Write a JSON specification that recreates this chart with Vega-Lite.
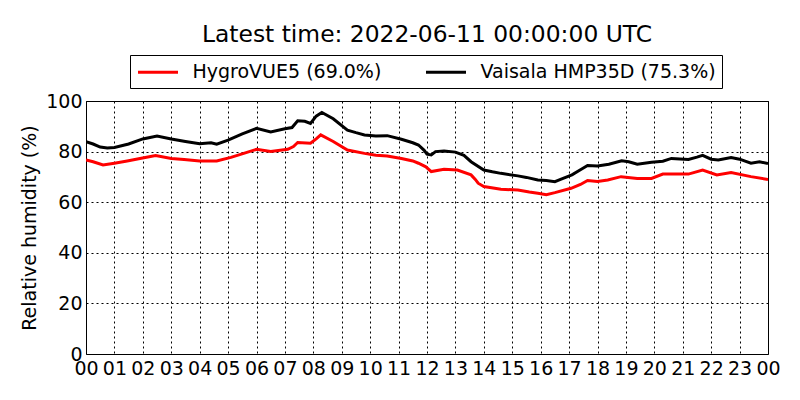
{
  "$schema": "https://vega.github.io/schema/vega-lite/v6.json",
  "autosize": "none",
  "width": 682,
  "height": 253,
  "padding": {"left": 86, "top": 101, "right": 32, "bottom": 46},
  "config": {
    "font": "DejaVu Sans",
    "view": {"stroke": "black", "strokeWidth": 1}
  },
  "title": {
    "text": "Latest time: 2022-06-11 00:00:00 UTC",
    "fontSize": 23.4,
    "fontWeight": "normal",
    "font": "DejaVu Sans",
    "color": "black",
    "offset": 7
  },
  "datasets": {
    "rh": [
      {"hour": 0.0, "rh": 83.9, "sensor": "Vaisala HMP35D (75.3%)"},
      {"hour": 0.25, "rh": 83.0, "sensor": "Vaisala HMP35D (75.3%)"},
      {"hour": 0.5, "rh": 81.8, "sensor": "Vaisala HMP35D (75.3%)"},
      {"hour": 0.75, "rh": 81.4, "sensor": "Vaisala HMP35D (75.3%)"},
      {"hour": 1.0, "rh": 81.6, "sensor": "Vaisala HMP35D (75.3%)"},
      {"hour": 1.5, "rh": 83.0, "sensor": "Vaisala HMP35D (75.3%)"},
      {"hour": 2.0, "rh": 85.0, "sensor": "Vaisala HMP35D (75.3%)"},
      {"hour": 2.5, "rh": 86.2, "sensor": "Vaisala HMP35D (75.3%)"},
      {"hour": 3.0, "rh": 85.0, "sensor": "Vaisala HMP35D (75.3%)"},
      {"hour": 3.5, "rh": 84.0, "sensor": "Vaisala HMP35D (75.3%)"},
      {"hour": 4.0, "rh": 83.1, "sensor": "Vaisala HMP35D (75.3%)"},
      {"hour": 4.4, "rh": 83.5, "sensor": "Vaisala HMP35D (75.3%)"},
      {"hour": 4.6, "rh": 82.9, "sensor": "Vaisala HMP35D (75.3%)"},
      {"hour": 5.0, "rh": 84.5, "sensor": "Vaisala HMP35D (75.3%)"},
      {"hour": 5.5, "rh": 87.0, "sensor": "Vaisala HMP35D (75.3%)"},
      {"hour": 6.0, "rh": 89.2, "sensor": "Vaisala HMP35D (75.3%)"},
      {"hour": 6.5, "rh": 87.8, "sensor": "Vaisala HMP35D (75.3%)"},
      {"hour": 7.0, "rh": 89.0, "sensor": "Vaisala HMP35D (75.3%)"},
      {"hour": 7.25, "rh": 89.5, "sensor": "Vaisala HMP35D (75.3%)"},
      {"hour": 7.45, "rh": 92.2, "sensor": "Vaisala HMP35D (75.3%)"},
      {"hour": 7.7, "rh": 92.0, "sensor": "Vaisala HMP35D (75.3%)"},
      {"hour": 7.9, "rh": 91.1, "sensor": "Vaisala HMP35D (75.3%)"},
      {"hour": 8.1, "rh": 94.0, "sensor": "Vaisala HMP35D (75.3%)"},
      {"hour": 8.3, "rh": 95.5, "sensor": "Vaisala HMP35D (75.3%)"},
      {"hour": 8.7, "rh": 93.0, "sensor": "Vaisala HMP35D (75.3%)"},
      {"hour": 9.2, "rh": 88.5, "sensor": "Vaisala HMP35D (75.3%)"},
      {"hour": 9.5, "rh": 87.5, "sensor": "Vaisala HMP35D (75.3%)"},
      {"hour": 9.8, "rh": 86.6, "sensor": "Vaisala HMP35D (75.3%)"},
      {"hour": 10.2, "rh": 86.2, "sensor": "Vaisala HMP35D (75.3%)"},
      {"hour": 10.6, "rh": 86.3, "sensor": "Vaisala HMP35D (75.3%)"},
      {"hour": 11.1, "rh": 84.9, "sensor": "Vaisala HMP35D (75.3%)"},
      {"hour": 11.5, "rh": 83.5, "sensor": "Vaisala HMP35D (75.3%)"},
      {"hour": 11.7, "rh": 82.6, "sensor": "Vaisala HMP35D (75.3%)"},
      {"hour": 11.9, "rh": 80.5, "sensor": "Vaisala HMP35D (75.3%)"},
      {"hour": 12.0, "rh": 79.0, "sensor": "Vaisala HMP35D (75.3%)"},
      {"hour": 12.15, "rh": 78.7, "sensor": "Vaisala HMP35D (75.3%)"},
      {"hour": 12.3, "rh": 80.0, "sensor": "Vaisala HMP35D (75.3%)"},
      {"hour": 12.6, "rh": 80.2, "sensor": "Vaisala HMP35D (75.3%)"},
      {"hour": 13.0, "rh": 79.8, "sensor": "Vaisala HMP35D (75.3%)"},
      {"hour": 13.3, "rh": 78.5, "sensor": "Vaisala HMP35D (75.3%)"},
      {"hour": 13.55, "rh": 76.0, "sensor": "Vaisala HMP35D (75.3%)"},
      {"hour": 14.0, "rh": 72.7, "sensor": "Vaisala HMP35D (75.3%)"},
      {"hour": 14.3, "rh": 72.0, "sensor": "Vaisala HMP35D (75.3%)"},
      {"hour": 14.6, "rh": 71.4, "sensor": "Vaisala HMP35D (75.3%)"},
      {"hour": 15.2, "rh": 70.4, "sensor": "Vaisala HMP35D (75.3%)"},
      {"hour": 15.5, "rh": 69.8, "sensor": "Vaisala HMP35D (75.3%)"},
      {"hour": 15.9, "rh": 68.8, "sensor": "Vaisala HMP35D (75.3%)"},
      {"hour": 16.2, "rh": 68.6, "sensor": "Vaisala HMP35D (75.3%)"},
      {"hour": 16.5, "rh": 68.1, "sensor": "Vaisala HMP35D (75.3%)"},
      {"hour": 16.7, "rh": 69.0, "sensor": "Vaisala HMP35D (75.3%)"},
      {"hour": 17.1, "rh": 70.8, "sensor": "Vaisala HMP35D (75.3%)"},
      {"hour": 17.4, "rh": 72.8, "sensor": "Vaisala HMP35D (75.3%)"},
      {"hour": 17.65, "rh": 74.5, "sensor": "Vaisala HMP35D (75.3%)"},
      {"hour": 18.0, "rh": 74.3, "sensor": "Vaisala HMP35D (75.3%)"},
      {"hour": 18.4, "rh": 75.0, "sensor": "Vaisala HMP35D (75.3%)"},
      {"hour": 18.85, "rh": 76.4, "sensor": "Vaisala HMP35D (75.3%)"},
      {"hour": 19.1, "rh": 76.0, "sensor": "Vaisala HMP35D (75.3%)"},
      {"hour": 19.4, "rh": 75.0, "sensor": "Vaisala HMP35D (75.3%)"},
      {"hour": 19.9, "rh": 75.8, "sensor": "Vaisala HMP35D (75.3%)"},
      {"hour": 20.3, "rh": 76.2, "sensor": "Vaisala HMP35D (75.3%)"},
      {"hour": 20.6, "rh": 77.3, "sensor": "Vaisala HMP35D (75.3%)"},
      {"hour": 21.2, "rh": 76.9, "sensor": "Vaisala HMP35D (75.3%)"},
      {"hour": 21.5, "rh": 77.8, "sensor": "Vaisala HMP35D (75.3%)"},
      {"hour": 21.7, "rh": 78.5, "sensor": "Vaisala HMP35D (75.3%)"},
      {"hour": 22.0, "rh": 77.0, "sensor": "Vaisala HMP35D (75.3%)"},
      {"hour": 22.25, "rh": 76.7, "sensor": "Vaisala HMP35D (75.3%)"},
      {"hour": 22.7, "rh": 77.7, "sensor": "Vaisala HMP35D (75.3%)"},
      {"hour": 23.0, "rh": 77.0, "sensor": "Vaisala HMP35D (75.3%)"},
      {"hour": 23.4, "rh": 75.4, "sensor": "Vaisala HMP35D (75.3%)"},
      {"hour": 23.7, "rh": 76.0, "sensor": "Vaisala HMP35D (75.3%)"},
      {"hour": 24.0, "rh": 75.3, "sensor": "Vaisala HMP35D (75.3%)"},
      {"hour": 0.0, "rh": 76.7, "sensor": "HygroVUE5 (69.0%)"},
      {"hour": 0.25, "rh": 76.0, "sensor": "HygroVUE5 (69.0%)"},
      {"hour": 0.6, "rh": 74.7, "sensor": "HygroVUE5 (69.0%)"},
      {"hour": 1.0, "rh": 75.4, "sensor": "HygroVUE5 (69.0%)"},
      {"hour": 1.45, "rh": 76.3, "sensor": "HygroVUE5 (69.0%)"},
      {"hour": 1.9, "rh": 77.3, "sensor": "HygroVUE5 (69.0%)"},
      {"hour": 2.45, "rh": 78.4, "sensor": "HygroVUE5 (69.0%)"},
      {"hour": 3.0, "rh": 77.3, "sensor": "HygroVUE5 (69.0%)"},
      {"hour": 3.45, "rh": 76.9, "sensor": "HygroVUE5 (69.0%)"},
      {"hour": 4.0, "rh": 76.3, "sensor": "HygroVUE5 (69.0%)"},
      {"hour": 4.6, "rh": 76.3, "sensor": "HygroVUE5 (69.0%)"},
      {"hour": 5.1, "rh": 77.7, "sensor": "HygroVUE5 (69.0%)"},
      {"hour": 5.55, "rh": 79.3, "sensor": "HygroVUE5 (69.0%)"},
      {"hour": 6.0, "rh": 80.9, "sensor": "HygroVUE5 (69.0%)"},
      {"hour": 6.5, "rh": 80.0, "sensor": "HygroVUE5 (69.0%)"},
      {"hour": 7.1, "rh": 80.9, "sensor": "HygroVUE5 (69.0%)"},
      {"hour": 7.3, "rh": 82.0, "sensor": "HygroVUE5 (69.0%)"},
      {"hour": 7.45, "rh": 83.6, "sensor": "HygroVUE5 (69.0%)"},
      {"hour": 7.9, "rh": 83.3, "sensor": "HygroVUE5 (69.0%)"},
      {"hour": 8.1, "rh": 85.0, "sensor": "HygroVUE5 (69.0%)"},
      {"hour": 8.26, "rh": 86.6, "sensor": "HygroVUE5 (69.0%)"},
      {"hour": 8.7, "rh": 84.0, "sensor": "HygroVUE5 (69.0%)"},
      {"hour": 9.2, "rh": 80.6, "sensor": "HygroVUE5 (69.0%)"},
      {"hour": 9.8, "rh": 79.3, "sensor": "HygroVUE5 (69.0%)"},
      {"hour": 10.2, "rh": 78.6, "sensor": "HygroVUE5 (69.0%)"},
      {"hour": 10.6, "rh": 78.3, "sensor": "HygroVUE5 (69.0%)"},
      {"hour": 11.1, "rh": 77.3, "sensor": "HygroVUE5 (69.0%)"},
      {"hour": 11.5, "rh": 76.3, "sensor": "HygroVUE5 (69.0%)"},
      {"hour": 11.7, "rh": 75.4, "sensor": "HygroVUE5 (69.0%)"},
      {"hour": 11.96, "rh": 74.0, "sensor": "HygroVUE5 (69.0%)"},
      {"hour": 12.15, "rh": 72.1, "sensor": "HygroVUE5 (69.0%)"},
      {"hour": 12.6, "rh": 73.0, "sensor": "HygroVUE5 (69.0%)"},
      {"hour": 13.07, "rh": 72.7, "sensor": "HygroVUE5 (69.0%)"},
      {"hour": 13.55, "rh": 70.8, "sensor": "HygroVUE5 (69.0%)"},
      {"hour": 13.7, "rh": 69.0, "sensor": "HygroVUE5 (69.0%)"},
      {"hour": 13.8, "rh": 67.5, "sensor": "HygroVUE5 (69.0%)"},
      {"hour": 14.0, "rh": 66.2, "sensor": "HygroVUE5 (69.0%)"},
      {"hour": 14.6, "rh": 65.1, "sensor": "HygroVUE5 (69.0%)"},
      {"hour": 15.2, "rh": 64.8, "sensor": "HygroVUE5 (69.0%)"},
      {"hour": 15.6, "rh": 64.0, "sensor": "HygroVUE5 (69.0%)"},
      {"hour": 15.9, "rh": 63.5, "sensor": "HygroVUE5 (69.0%)"},
      {"hour": 16.2, "rh": 63.0, "sensor": "HygroVUE5 (69.0%)"},
      {"hour": 16.5, "rh": 63.8, "sensor": "HygroVUE5 (69.0%)"},
      {"hour": 17.07, "rh": 65.5, "sensor": "HygroVUE5 (69.0%)"},
      {"hour": 17.4, "rh": 67.0, "sensor": "HygroVUE5 (69.0%)"},
      {"hour": 17.65, "rh": 68.6, "sensor": "HygroVUE5 (69.0%)"},
      {"hour": 18.0, "rh": 68.2, "sensor": "HygroVUE5 (69.0%)"},
      {"hour": 18.36, "rh": 68.8, "sensor": "HygroVUE5 (69.0%)"},
      {"hour": 18.83, "rh": 70.1, "sensor": "HygroVUE5 (69.0%)"},
      {"hour": 19.4, "rh": 69.4, "sensor": "HygroVUE5 (69.0%)"},
      {"hour": 19.9, "rh": 69.4, "sensor": "HygroVUE5 (69.0%)"},
      {"hour": 20.3, "rh": 71.1, "sensor": "HygroVUE5 (69.0%)"},
      {"hour": 21.2, "rh": 71.1, "sensor": "HygroVUE5 (69.0%)"},
      {"hour": 21.7, "rh": 72.7, "sensor": "HygroVUE5 (69.0%)"},
      {"hour": 22.2, "rh": 70.8, "sensor": "HygroVUE5 (69.0%)"},
      {"hour": 22.7, "rh": 71.7, "sensor": "HygroVUE5 (69.0%)"},
      {"hour": 23.4, "rh": 70.1, "sensor": "HygroVUE5 (69.0%)"},
      {"hour": 24.0, "rh": 69.0, "sensor": "HygroVUE5 (69.0%)"}
    ]
  },
  "data": {"name": "rh"},
  "mark": {"type": "line", "strokeWidth": 3, "clip": true},
  "encoding": {
    "x": {
      "field": "hour",
      "type": "quantitative",
      "scale": {"domain": [0, 24], "nice": false, "zero": false},
      "axis": {
        "title": null,
        "values": [0,1,2,3,4,5,6,7,8,9,10,11,12,13,14,15,16,17,18,19,20,21,22,23,24],
        "labelExpr": "(datum.value % 24) < 10 ? '0' + (datum.value % 24) : '' + (datum.value % 24)",
        "labelFontSize": 19,
        "labelColor": "black",
        "labelPadding": 5,
        "labelFlush": false,
        "labelOverlap": false,
        "ticks": false,
        "domain": false,
        "grid": true,
        "gridColor": "black",
        "gridDash": [2, 3],
        "gridOpacity": 1,
        "gridWidth": 1
      }
    },
    "y": {
      "field": "rh",
      "type": "quantitative",
      "scale": {"domain": [0, 100], "nice": false},
      "axis": {
        "title": "Relative humidity (%)",
        "titleFontSize": 19,
        "titleFontWeight": "normal",
        "titleColor": "black",
        "titlePadding": 6,
        "values": [0, 20, 40, 60, 80, 100],
        "labelFontSize": 19,
        "labelColor": "black",
        "labelPadding": 4,
        "labelFlush": false,
        "ticks": false,
        "domain": false,
        "grid": true,
        "gridColor": "black",
        "gridDash": [2, 3],
        "gridOpacity": 1,
        "gridWidth": 1
      }
    },
    "color": {
      "field": "sensor",
      "type": "nominal",
      "scale": {"domain": ["HygroVUE5 (69.0%)", "Vaisala HMP35D (75.3%)"], "range": ["#ff0000", "#000000"]},
      "legend": {
        "title": null,
        "orient": "none",
        "legendX": 44,
        "legendY": -46,
        "direction": "horizontal",
        "symbolType": "M-2,0H2",
        "symbolSize": 400,
        "symbolOffset": 11,
        "symbolStrokeWidth": 3,
        "labelFontSize": 19,
        "labelColor": "black",
        "labelLimit": 0,
        "labelOffset": 23,
        "columnPadding": 38,
        "padding": 5.5,
        "strokeColor": "black",
        "fillColor": "white"
      }
    }
  }
}
